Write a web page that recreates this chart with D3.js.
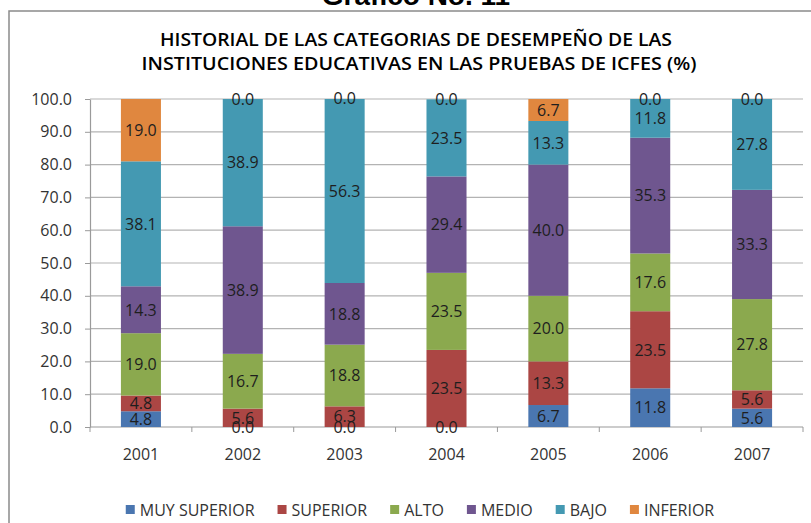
<!DOCTYPE html>
<html>
<head>
<meta charset="utf-8">
<script src="https://cdn.jsdelivr.net/npm/d3@7"></script>
<style>
  body { margin: 0; background: #fff; }
  text { font-family: "Open Sans", sans-serif; fill: #222; }
</style>
</head>
<body>
<svg id="chart" width="811" height="523"></svg>
<script>
// ***** Data *****
const years = ["2001", "2002", "2003", "2004", "2005", "2006", "2007"];
const categories = ["MUY SUPERIOR", "SUPERIOR", "ALTO", "MEDIO", "BAJO", "INFERIOR"];
const muySuperior = [4.8, 0.0, 0.0, 0.0, 6.7, 11.8, 5.6];
const superior = [4.8, 5.6, 6.3, 23.5, 13.3, 23.5, 5.6];
const alto = [19.0, 16.7, 18.8, 23.5, 20.0, 17.6, 27.8];
const medio = [14.3, 38.9, 18.8, 29.4, 40.0, 35.3, 33.3];
const bajo = [38.1, 38.9, 56.3, 23.5, 13.3, 11.8, 27.8];
const inferior = [19.0, 0.0, 0.0, 0.0, 6.7, 0.0, 0.0];
const yTicks = [0, 10, 20, 30, 40, 50, 60, 70, 80, 90, 100];

const colors = ["#4a76b0", "#ab4644", "#8ba94e", "#6f568f", "#4499b2", "#e0873f"];
const seriesValues = [muySuperior, superior, alto, medio, bajo, inferior];

// build rows for d3.stack
const rows = years.map(function(y, i) {
  const row = { year: y };
  categories.forEach(function(c, j) { row[c] = seriesValues[j][i]; });
  return row;
});

const svg = d3.select("#chart");

// outer frame (runs off the page on the right and bottom)
svg.append("rect")
  .attr("x", 9).attr("y", 11)
  .attr("width", 900).attr("height", 600)
  .attr("fill", "none")
  .attr("stroke", "#8a8a8a")
  .attr("stroke-width", 1.5);

// cut off heading above the frame
svg.append("text")
  .attr("x", 416).attr("y", 5)
  .attr("text-anchor", "middle")
  .style("font-family", "'Liberation Sans', Arial, sans-serif")
  .style("font-weight", "bold")
  .style("font-size", "28px")
  .style("fill", "#000")
  .text("Gráfico No. 11");

// ***** Titles *****
const titleLines = [
  { t: "HISTORIAL DE LAS CATEGORIAS DE DESEMPEÑO DE LAS", x: 416, y: 46, w: 512 },
  { t: "INSTITUCIONES EDUCATIVAS EN LAS PRUEBAS DE ICFES (%)", x: 419, y: 70, w: 555 }
];
svg.selectAll(".title")
  .data(titleLines)
  .enter()
  .append("text")
  .attr("class", "title")
  .attr("x", function(d) { return d.x; })
  .attr("y", function(d) { return d.y; })
  .attr("text-anchor", "middle")
  .attr("textLength", function(d) { return d.w; })
  .attr("lengthAdjust", "spacingAndGlyphs")
  .style("font-size", "18px")
  .style("font-weight", "600")
  .style("fill", "#000")
  .text(function(d) { return d.t; });

// ***** Scales *****
const plotLeft = 90, plotRight = 803, plotTop = 99, plotBottom = 427;
const xScale = d3.scaleBand()
  .domain(years)
  .range([plotLeft, plotRight])
  .paddingInner(0.607)
  .paddingOuter(0.3035);
const yScale = d3.scaleLinear().domain([0, 100]).range([plotBottom, plotTop]);

// gridlines
svg.append("g")
  .selectAll("line")
  .data(yTicks.slice(1))
  .enter()
  .append("line")
  .attr("x1", plotLeft).attr("x2", plotRight)
  .attr("y1", function(d) { return yScale(d); })
  .attr("y2", function(d) { return yScale(d); })
  .attr("stroke", "#b3b3b3")
  .attr("stroke-width", 1.2);

// y axis
const yAxis = svg.append("g")
  .attr("transform", "translate(" + plotLeft + ",0)")
  .call(d3.axisLeft(yScale).tickValues(yTicks).tickFormat(d3.format(".1f"))
    .tickSize(5).tickSizeOuter(0).tickPadding(13));
yAxis.select(".domain").attr("stroke", "#9a9a9a").attr("stroke-width", 1.2);
yAxis.selectAll(".tick line").attr("stroke", "#9a9a9a");
yAxis.selectAll("text").style("font-size", "16px").style("fill", "#333");

// x axis
const xAxis = svg.append("g")
  .attr("transform", "translate(0," + plotBottom + ")")
  .call(d3.axisBottom(xScale).tickSize(0).tickSizeOuter(0).tickPadding(22));
xAxis.select(".domain").attr("d", "M" + plotLeft + ",0H" + plotRight)
  .attr("stroke", "#9a9a9a").attr("stroke-width", 1.2);
xAxis.selectAll("text").style("font-size", "16px").style("fill", "#333");

// tick marks between categories
const step = xScale.step();
xAxis.selectAll(".sep")
  .data(d3.range(years.length + 1))
  .enter()
  .append("line")
  .attr("class", "sep")
  .attr("x1", function(i) { return plotLeft + i * step; })
  .attr("x2", function(i) { return plotLeft + i * step; })
  .attr("y1", 0).attr("y2", 5)
  .attr("stroke", "#9a9a9a");

// ***** Draw the stacked bars *****
const stacked = d3.stack().keys(categories)(rows);

const layers = svg.append("g")
  .selectAll(".layer")
  .data(stacked)
  .enter()
  .append("g")
  .attr("class", "layer")
  .attr("fill", function(d, i) { return colors[i]; });

layers.selectAll("rect")
  .data(function(d) { return d; })
  .enter()
  .append("rect")
  .attr("x", function(d) { return xScale(d.data.year); })
  .attr("width", xScale.bandwidth())
  .attr("y", function(d) { return yScale(Math.min(d[1], 100)); })
  .attr("height", function(d) { return yScale(d[0]) - yScale(Math.min(d[1], 100)); });

// value labels, every segment including the zero ones
const labelGroup = svg.append("g");
stacked.forEach(function(layer, j) {
  labelGroup.selectAll(".lbl" + j)
    .data(layer)
    .enter()
    .append("text")
    .attr("x", function(d) { return xScale(d.data.year) + xScale.bandwidth() / 2; })
    .attr("y", function(d) { return yScale((d[0] + Math.min(d[1], 100)) / 2); })
    .attr("dy", "0.36em")
    .attr("text-anchor", "middle")
    .style("font-size", "16px")
    .style("fill", "#1e1e1e")
    .text(function(d) { return d3.format(".1f")(d[1] - d[0]); });
});

// ***** Legend *****
const legend = svg.append("g").attr("transform", "translate(0,510)");
const items = legend.selectAll(".item")
  .data(categories)
  .enter()
  .append("g")
  .attr("class", "item");
items.append("rect")
  .attr("width", 9).attr("height", 9)
  .attr("y", -5)
  .attr("fill", function(d, i) { return colors[i]; });
items.append("text")
  .attr("x", 14)
  .attr("dy", "0.36em")
  .style("font-size", "16px")
  .style("fill", "#333")
  .text(function(d) { return d; });

let cursor = 0;
const offsets = [];
items.each(function() {
  offsets.push(cursor);
  cursor += 14 + d3.select(this).select("text").node().getComputedTextLength() + 23;
});
const total = cursor - 23;
const start = 420 - total / 2;
items.attr("transform", function(d, i) { return "translate(" + (start + offsets[i]) + ",0)"; });
</script>
</body>
</html>
